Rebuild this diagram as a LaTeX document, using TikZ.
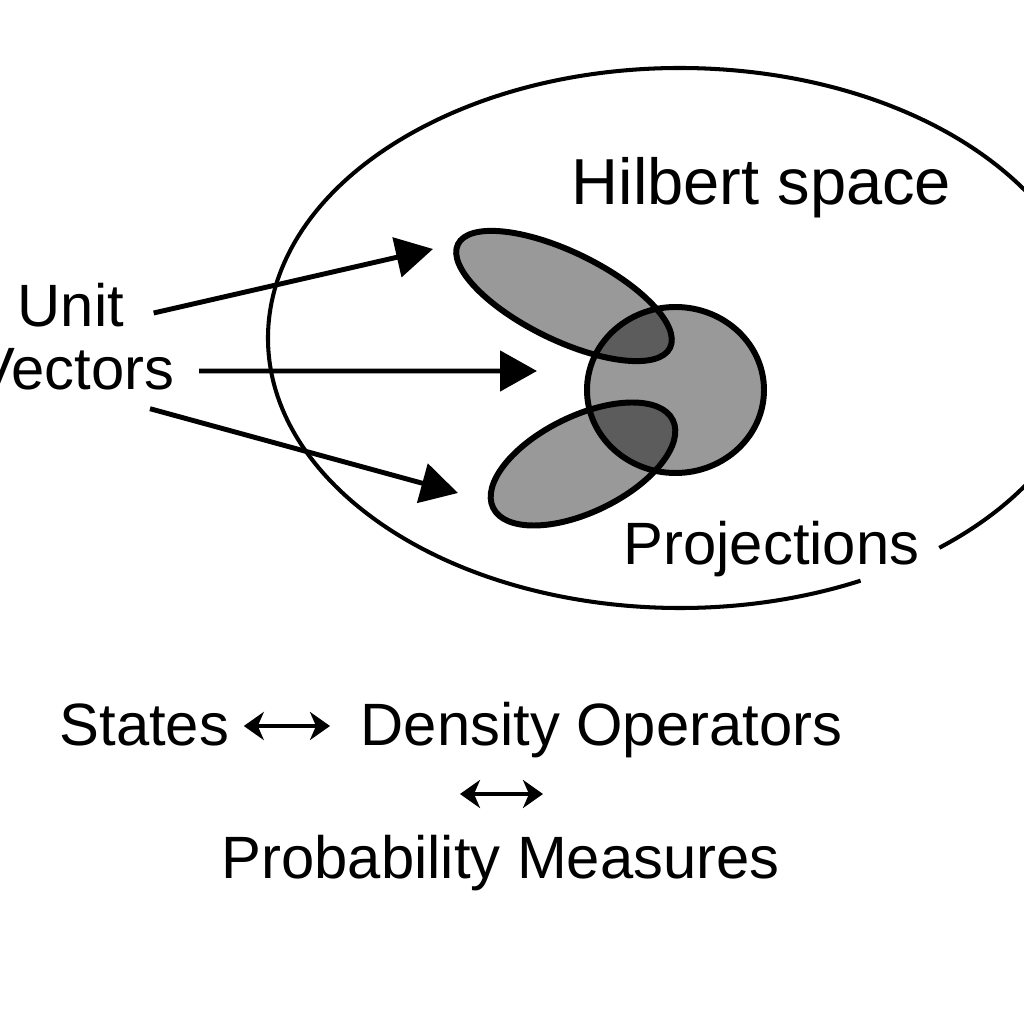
\documentclass[tikz,border=0pt]{standalone}
\usepackage{fontspec}
\setmainfont{Liberation Sans}
\usepackage{tikz}
\usetikzlibrary{arrows.meta}

\begin{document}
\begin{tikzpicture}
  [every node/.style={inner sep=0pt,text height=0.53cm,text depth=0.15cm,font=\fontsize{17}{20}\selectfont},
   vecarrow/.style={line width=1.4pt,-{Triangle[length=0.37cm,width=0.40cm]}},
   pairarrow/.style={line width=1.4pt,{Stealth[length=0.2cm,width=0.28cm,inset=0.06cm]}-{Stealth[length=0.2cm,width=0.28cm,inset=0.06cm]}},
   blob/.style={fill=black,fill opacity=0.4},
   rim/.style={line width=1.7pt}]
  \useasboundingbox (0,0) rectangle (10.24,10.24);

  % Hilbert space
  \coordinate (hs) at (6.80,6.86);
  \draw[line width=1.15pt] ([shift={(-51:4.12 and 2.70)}]hs) arc[start angle=-51,end angle=296,x radius=4.12,y radius=2.70];

  \foreach \cx/\cy/\rx/\ry/\ang in {5.64/7.28/1.18/0.44/-26,6.755/6.34/0.885/0.83/0,5.83/5.60/1.00/0.48/26}
    \fill[blob,shift={(\cx,\cy)},rotate=\ang] (0,0) ellipse[x radius=\rx,y radius=\ry];
  \foreach \cx/\cy/\rx/\ry/\ang in {5.64/7.28/1.18/0.44/-26,6.755/6.34/0.885/0.83/0,5.83/5.60/1.00/0.48/26}
    \draw[rim,shift={(\cx,\cy)},rotate=\ang] (0,0) ellipse[x radius=\rx,y radius=\ry];

  \node[anchor=base west,font=\fontsize{18.5}{22}\selectfont] (hilbert) at (5.71,8.19) {Hilbert space};
  \node[anchor=base west] (unit) at (0.17,6.97) {Unit};
  \node[anchor=base east] (vectors) at (1.75,6.34) {Vectors};
  \node[anchor=base west] (proj) at (6.23,4.59) {Projections};
  \node[anchor=base west] (states) at (0.59,2.79) {States};
  \node[anchor=base west] (density) at (3.60,2.79) {Density Operators};
  \node[anchor=base west] (prob) at (2.21,1.46) {Probability Measures};

  \coordinate (fromA) at ([shift={(0.29,-0.05)}]unit.east);
  \coordinate (fromB) at ([shift={(0.24,0)}]vectors.east);
  \coordinate (fromC) at ([shift={(-0.25,-0.03)}]vectors.south east);
  \coordinate (tipA) at (4.33,7.75);
  \coordinate (tipB) at (5.37,6.53);
  \coordinate (tipC) at (4.58,5.31);
  \foreach \from/\to in {fromA/tipA,fromB/tipB,fromC/tipC}
    \draw[vecarrow] (\from) -- (\to);

  \draw[pairarrow,shorten <=0.14cm,shorten >=0.30cm] (states) -- (density);
  \coordinate (pl) at (4.60,2.30);
  \coordinate (pr) at (5.43,2.30);
  \draw[pairarrow] (pl) -- (pr);

\end{tikzpicture}
\end{document}
